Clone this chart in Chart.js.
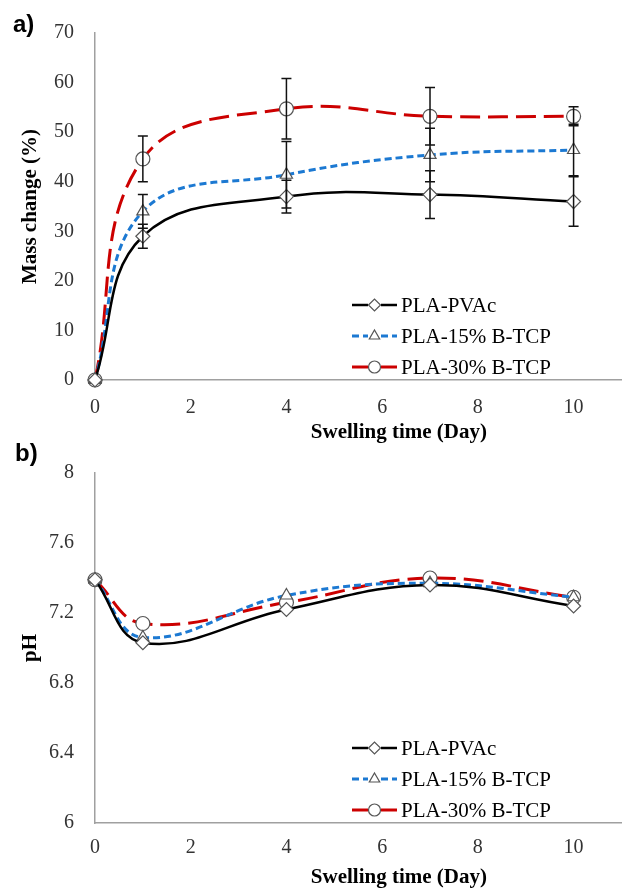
<!DOCTYPE html>
<html>
<head>
<meta charset="utf-8">
<script src="https://cdn.jsdelivr.net/npm/chart.js@4.4.1/dist/chart.umd.min.js"></script>
<style>
html, body { margin: 0; padding: 0; background: #fff; overflow: hidden; width: 622px; height: 889px; }
.panel { position: absolute; left: 0; }
#panelA { top: 0; }
#panelB { top: 440px; }
.tag { position: absolute; font: bold 24px "Liberation Sans", Arial, sans-serif; line-height: 24px; color: #000; }
</style>
</head>
<body>
<div class="panel" id="panelB"><canvas id="chartB" width="711" height="455"></canvas></div>
<div class="panel" id="panelA"><canvas id="chartA" width="711" height="450"></canvas></div>
<div class="tag" style="left:13px;top:12px">a)</div>
<div class="tag" style="left:15px;top:441px">b)</div>
<script>
const days = [0, 1, 4, 7, 10];
const seriesNames = ['PLA-PVAc', 'PLA-15% B-TCP', 'PLA-30% B-TCP'];

// a) mass change (%)
const massPVAc = [0, 29, 37, 37.4, 36];
const mass15 = [0, 34, 41.4, 45.4, 46.4];
const mass30 = [0, 44.6, 54.7, 53.2, 53.2];
const massErrPVAc = [0, 2.4, 3.3, 4.8, 5];
const massErr15 = [0, 3.4, 6.7, 5.4, 5.2];
const massErr30 = [0, 4.6, 6.1, 5.8, 1.9];

// b) pH
const phPVAc = [7.39, 7.03, 7.22, 7.36, 7.24];
const ph15 = [7.39, 7.06, 7.30, 7.37, 7.29];
const ph30 = [7.39, 7.14, 7.26, 7.40, 7.29];

const xTicks = [0, 2, 4, 6, 8, 10];
const massTicks = [0, 10, 20, 30, 40, 50, 60, 70];
const phTicks = [6, 6.4, 6.8, 7.2, 7.6, 8];

const serif = '"Liberation Serif", "Times New Roman", serif';
const styles = [
    { color: '#000000', dash: [], width: 2.5, marker: 'rectRot' },
    { color: '#1c79d2', dash: [7, 4], width: 3, marker: 'triangle' },
    { color: '#cc0000', dash: [20, 8], width: 3, marker: 'circle' }
];

const errorBars = {
    id: 'errorBars',
    afterDatasetsDraw(chart, args, opts) {
        if (!opts.errors) return;
        const xs = chart.scales.x, ys = chart.scales.y, ctx = chart.ctx;
        ctx.save();
        ctx.strokeStyle = '#111';
        ctx.lineWidth = 1.5;
        chart.data.datasets.forEach((ds, i) => {
            ds.data.forEach((p, j) => {
                let e = opts.errors[i][j];
                if (!e) return;
                let x = xs.getPixelForValue(p.x);
                let top = ys.getPixelForValue(p.y + e);
                let bot = ys.getPixelForValue(p.y - e);
                ctx.beginPath();
                ctx.moveTo(x, top); ctx.lineTo(x, bot);
                ctx.moveTo(x - 5, top); ctx.lineTo(x + 5, top);
                ctx.moveTo(x - 5, bot); ctx.lineTo(x + 5, bot);
                ctx.stroke();
            });
        });
        ctx.restore();
    }
};

const insideLegend = {
    id: 'insideLegend',
    afterDraw(chart, args, opts) {
        const ctx = chart.ctx, area = chart.chartArea;
        const rows = [-75, -44, -13];
        chart.data.datasets.forEach((ds, i) => {
            let y = area.bottom + rows[i];
            let x0 = area.left + 257;
            ctx.save();
            ctx.strokeStyle = ds.borderColor;
            ctx.lineWidth = ds.borderWidth;
            ctx.setLineDash(ds.borderDash);
            ctx.beginPath(); ctx.moveTo(x0, y); ctx.lineTo(x0 + 16, y); ctx.stroke();
            ctx.beginPath(); ctx.moveTo(x0 + 29, y); ctx.lineTo(x0 + 45, y); ctx.stroke();
            ctx.setLineDash([]);
            ctx.fillStyle = '#fff';
            ctx.strokeStyle = '#555';
            ctx.lineWidth = 1.2;
            Chart.helpers.drawPoint(ctx, { pointStyle: ds.pointStyle, radius: 6, rotation: 0, borderWidth: 1.2 }, x0 + 22.5, y);
            ctx.fillStyle = '#000';
            ctx.font = '21px ' + serif;
            ctx.textBaseline = 'middle';
            ctx.fillText(ds.label, x0 + 49, y + 1);
            ctx.restore();
        });
    }
};

function makeDatasets(series) {
    return series.map((vals, i) => ({
        label: seriesNames[i],
        data: days.map((d, j) => ({ x: d, y: vals[j] })),
        borderColor: styles[i].color,
        borderWidth: styles[i].width,
        borderDash: styles[i].dash,
        tension: 0.4,
        fill: false,
        clip: false,
        pointStyle: styles[i].marker,
        pointRadius: 7,
        pointBackgroundColor: '#ffffff',
        pointBorderColor: '#555555',
        pointBorderWidth: 1.2
    }));
}

function makeChart(id, cfg) {
    return new Chart(document.getElementById(id), {
        type: 'line',
        data: { datasets: makeDatasets(cfg.series) },
        options: {
            responsive: false,
            animation: false,
            devicePixelRatio: 1,
            layout: { padding: { top: cfg.top, left: 0, right: 0, bottom: 0 } },
            plugins: {
                legend: { display: false },
                tooltip: { enabled: false },
                errorBars: { errors: cfg.errors }
            },
            scales: {
                x: {
                    type: 'linear',
                    min: 0,
                    max: 12.7,
                    grid: { display: false, drawTicks: false },
                    border: { color: '#a0a0a0', width: 1.5 },
                    afterBuildTicks: (s) => { s.ticks = xTicks.map(v => ({ value: v })); },
                    afterFit: (s) => { s.height = cfg.xHeight; },
                    ticks: { padding: cfg.xPad, color: '#333', font: { family: serif, size: 20 } },
                    title: {
                        display: true,
                        text: 'Swelling time (Day)',
                        color: '#000',
                        font: { family: serif, size: 21, weight: 'bold' },
                        padding: { top: 5, bottom: 5 }
                    }
                },
                y: {
                    min: cfg.yMin,
                    max: cfg.yMax,
                    grid: { display: false, drawTicks: false },
                    border: { color: '#a0a0a0', width: 1.5 },
                    afterBuildTicks: (s) => { s.ticks = cfg.yTicks.map(v => ({ value: v })); },
                    afterFit: (s) => { s.width = 95; },
                    ticks: { padding: 21, color: '#333', font: { family: serif, size: 20 }, callback: (v) => String(+v.toFixed(1)) },
                    title: {
                        display: true,
                        text: cfg.yTitle,
                        color: '#000',
                        font: { family: serif, size: 21, weight: 'bold' },
                        padding: { top: 18, bottom: 0 }
                    }
                }
            }
        },
        plugins: [errorBars, insideLegend]
    });
}

makeChart('chartA', {
    series: [massPVAc, mass15, mass30],
    errors: [massErrPVAc, massErr15, massErr30],
    yMin: 0, yMax: 70, yTicks: massTicks, yTitle: 'Mass change (%)',
    top: 30, xHeight: 70, xPad: 16
});

makeChart('chartB', {
    series: [phPVAc, ph15, ph30],
    errors: null,
    yMin: 6, yMax: 8, yTicks: phTicks, yTitle: 'pH',
    top: 33, xHeight: 72, xPad: 13
});
</script>
</body>
</html>
